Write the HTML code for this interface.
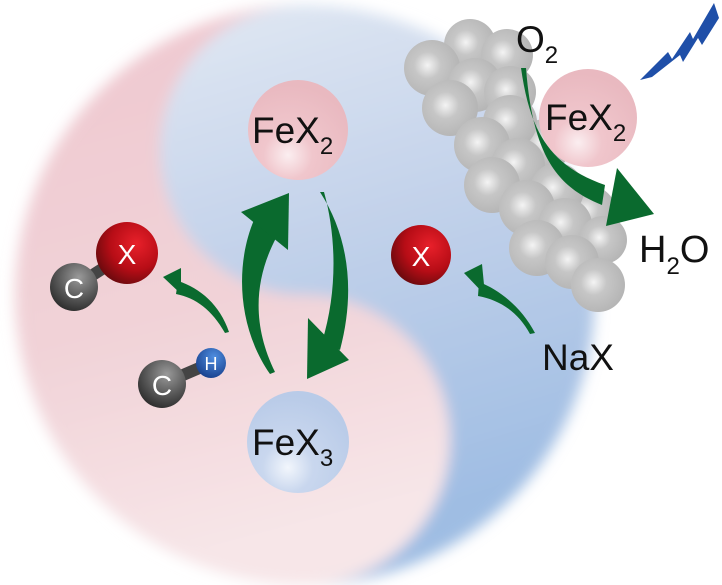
<!DOCTYPE html>
<html><head><meta charset="utf-8"><style>
html,body{margin:0;padding:0;background:#fff;}
svg{display:block;}
text{font-family:"Liberation Sans",Arial,sans-serif;}
</style></head><body>
<svg width="722" height="585" viewBox="0 0 722 585" xmlns="http://www.w3.org/2000/svg">
<defs>
<filter id="blur" x="-10%" y="-10%" width="120%" height="120%"><feGaussianBlur stdDeviation="7"/></filter>
<linearGradient id="blueG" x1="0" y1="0" x2="0.3" y2="1">
<stop offset="0" stop-color="#e6ecf5"/><stop offset="0.5" stop-color="#c3d2ea"/><stop offset="1" stop-color="#9fbde3"/></linearGradient>
<linearGradient id="pinkG" x1="0" y1="0" x2="0.2" y2="1">
<stop offset="0" stop-color="#efc7cf"/><stop offset="0.6" stop-color="#f1d3d8"/><stop offset="1" stop-color="#f7e6e8"/></linearGradient>
<radialGradient id="gray" cx="0.42" cy="0.45" r="0.6"><stop offset="0" stop-color="#f4f4f4"/><stop offset="0.4" stop-color="#c6c6c6"/><stop offset="1" stop-color="#b4b4b4"/></radialGradient>
<radialGradient id="pinkS" cx="0.4" cy="0.75" r="0.7"><stop offset="0" stop-color="#fbeef0"/><stop offset="0.35" stop-color="#f0c6cc"/><stop offset="1" stop-color="#e9b9c0"/></radialGradient>
<radialGradient id="blueS" cx="0.4" cy="0.75" r="0.7"><stop offset="0" stop-color="#f2f6fc"/><stop offset="0.35" stop-color="#c9d7ee"/><stop offset="1" stop-color="#b9cbe8"/></radialGradient>
<radialGradient id="redS" cx="0.65" cy="0.35" r="0.7"><stop offset="0" stop-color="#e8202a"/><stop offset="0.6" stop-color="#b70d16"/><stop offset="1" stop-color="#6e0a0e"/></radialGradient>
<radialGradient id="cS" cx="0.6" cy="0.3" r="0.75"><stop offset="0" stop-color="#9a9a9a"/><stop offset="0.6" stop-color="#555"/><stop offset="1" stop-color="#2a2a2a"/></radialGradient>
<radialGradient id="hS" cx="0.6" cy="0.3" r="0.75"><stop offset="0" stop-color="#4f8ee0"/><stop offset="1" stop-color="#173f8c"/></radialGradient>
</defs>

<g filter="url(#blur)">
<circle cx="305" cy="295" r="290" fill="url(#blueG)"/>
<path d="M305,5 A290,290 0 0 0 305,585 A145,145 0 0 0 305,295 A145,145 0 0 1 305,5 Z" fill="url(#pinkG)"/>
</g>

<!-- gray cluster -->
<g fill="url(#gray)">
<circle cx="470" cy="45" r="26"/><circle cx="507" cy="55" r="26"/>
<circle cx="432" cy="68" r="28"/><circle cx="475" cy="85" r="27"/><circle cx="510" cy="92" r="26"/>
<circle cx="450" cy="108" r="28"/><circle cx="545" cy="145" r="26"/><circle cx="510" cy="122" r="27"/>
<circle cx="482" cy="145" r="28"/><circle cx="518" cy="165" r="27"/>
<circle cx="590" cy="212" r="26"/>
<circle cx="492" cy="185" r="28"/><circle cx="557" cy="190" r="27"/>
<circle cx="527" cy="208" r="28"/><circle cx="565" cy="225" r="27"/><circle cx="603" cy="240" r="24"/>
<circle cx="537" cy="248" r="28"/><circle cx="572" cy="262" r="27"/>
<circle cx="598" cy="285" r="27"/>
</g>

<!-- spheres -->
<circle cx="298" cy="130" r="50" fill="url(#pinkS)"/>
<text x="252" y="143" font-size="37" fill="#111">FeX<tspan font-size="24" dy="11">2</tspan></text>
<circle cx="298" cy="442" r="51" fill="url(#blueS)"/>
<text x="252" y="455" font-size="37" fill="#111">FeX<tspan font-size="24" dy="11">3</tspan></text>
<circle cx="588" cy="118" r="49" fill="url(#pinkS)"/>
<text x="545" y="130" font-size="37" fill="#111">FeX<tspan font-size="24" dy="11">2</tspan></text>

<!-- molecules -->
<line x1="74" y1="287" x2="127" y2="253" stroke="#444" stroke-width="12"/>
<circle cx="74" cy="287" r="24" fill="url(#cS)"/>
<text x="74" y="298" font-size="28" fill="#fff" text-anchor="middle">C</text>
<circle cx="127" cy="253" r="31" fill="url(#redS)"/>
<text x="127" y="264" font-size="28" fill="#fff" text-anchor="middle">X</text>

<line x1="162" y1="384" x2="211" y2="363" stroke="#444" stroke-width="12"/>
<circle cx="162" cy="384" r="24" fill="url(#cS)"/>
<text x="162" y="395" font-size="28" fill="#fff" text-anchor="middle">C</text>
<circle cx="211" cy="363" r="15" fill="url(#hS)"/>
<text x="211" y="370" font-size="18" fill="#fff" text-anchor="middle">H</text>

<circle cx="421" cy="255" r="30" fill="url(#redS)"/>
<text x="421" y="266" font-size="28" fill="#fff" text-anchor="middle">X</text>

<!-- arrows -->
<g fill="#0a6a2e">
<path d="M254,220 C236,262 236,325 270,374 L275,372 C252,325 254,280 276,238 Z"/>
<polygon points="289,193 241,212 288,250"/>
<path d="M320,192 C348,235 356,290 340,350 L322,342 C338,290 336,235 324,192 Z"/>
<polygon points="307,379 349,360 308,318"/>
<path d="M178,281 C200,288 220,305 229,332 L225,333 C212,310 196,298 176,294 Z"/>
<polygon points="163,277 181,268 181,294"/>
<path d="M479,282 C500,290 522,308 535,333 L530,334 C518,312 500,300 478,296 Z"/>
<polygon points="464,273 482,264 485,295"/>
<path d="M521,68 C530,130 548,165 605,185 L602,205 C560,188 533,160 526,68 Z"/>
<polygon points="654,214 617,168 606,226"/>
</g>

<!-- lightning -->
<polygon points="640,80 668,52 672,59 690,32 693,39 714,3 719,18 702,45 698,38 683,62 680,55 652,77" fill="#1f4fa8"/>

<!-- labels -->
<text x="516" y="52" font-size="37" fill="#111">O<tspan font-size="24" dy="11">2</tspan></text>
<text x="639" y="262" font-size="38" fill="#111">H<tspan font-size="24" dy="12">2</tspan><tspan dy="-12">O</tspan></text>
<text x="542" y="370" font-size="37" fill="#111">NaX</text>
</svg>
</body></html>
